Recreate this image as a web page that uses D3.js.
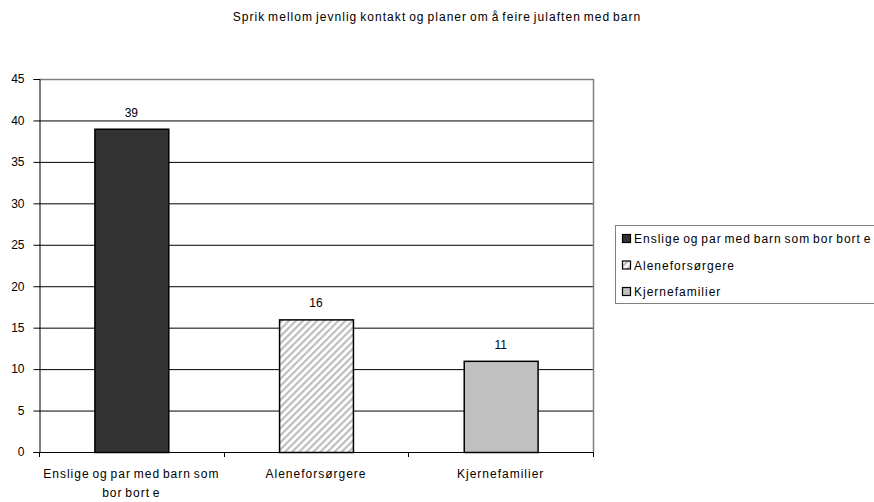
<!DOCTYPE html>
<html>
<head>
<meta charset="utf-8">
<script src="https://cdn.jsdelivr.net/npm/d3@7"></script>
<style>
body { margin: 0; background: #fff; }
svg { display: block; font-family: "Liberation Sans", Arial, sans-serif; }
</style>
</head>
<body>
<svg id="chart" width="874" height="502"></svg>
<script>
const title = "Sprik mellom jevnlig kontakt og planer om å feire julaften med barn";
const categories = ["Enslige og par med barn som bor bort e", "Aleneforsørgere", "Kjernefamilier"];
const categoryLines = [["Enslige og par med barn som", "bor bort e"], ["Aleneforsørgere"], ["Kjernefamilier"]];
const values = [39, 16, 11];
const legendLabels = ["Enslige og par med barn som bor bort e", "Aleneforsørgere", "Kjernefamilier"];
const yTicks = [0, 5, 10, 15, 20, 25, 30, 35, 40, 45];

const svg = d3.select("#chart");
const pLeft = 39, pRight = 593, pTop = 79, pBottom = 452;

const defs = svg.append("defs");
const pat = defs.append("pattern").attr("id", "hatch").attr("patternUnits", "userSpaceOnUse")
  .attr("width", 5).attr("height", 5).attr("patternTransform", "rotate(45)");
pat.append("rect").attr("width", 5).attr("height", 5).attr("fill", "#fff");
pat.append("rect").attr("x", 0).attr("width", 2.2).attr("height", 5).attr("fill", "#bdbdbd");

const fills = ["#333333", "url(#hatch)", "#c0c0c0"];

const x = d3.scaleBand().domain(categories).range([pLeft, pRight]).paddingInner(0.6).paddingOuter(0.3);
const xb = d3.scaleBand().domain(categories).range([pLeft, pRight]);
const y = d3.scaleLinear().domain([0, 45]).range([pBottom, pTop]);

// title
svg.append("text").attr("x", 437).attr("y", 21).attr("text-anchor", "middle")
  .attr("font-size", 12).attr("letter-spacing", 1.05).attr("word-spacing", -1.5).text(title);

// gridlines
svg.append("g").selectAll("line").data(yTicks.filter(d => d > 0 && d < 45)).join("line")
  .attr("x1", pLeft).attr("x2", pRight).attr("y1", d => y(d) + 0.5).attr("y2", d => y(d) + 0.5)
  .attr("stroke", "#000").attr("stroke-width", 1);

// plot border top/right
svg.append("path").attr("d", `M${pLeft},${pTop + 0.5}H${pRight + 0.5}V${pBottom}`)
  .attr("fill", "none").attr("stroke", "#808080").attr("stroke-width", 1.5);

// bars
svg.append("g").selectAll("rect").data(values).join("rect")
  .attr("x", (d, i) => x(categories[i]) + 0.5)
  .attr("y", d => y(d) + 0.5)
  .attr("width", x.bandwidth())
  .attr("height", d => pBottom - y(d))
  .attr("fill", (d, i) => fills[i])
  .attr("stroke", "#000").attr("stroke-width", 1.5);

// value labels
svg.append("g").selectAll("text").data(values).join("text")
  .attr("x", (d, i) => x(categories[i]) + x.bandwidth() / 2)
  .attr("y", d => y(d) - 12)
  .attr("text-anchor", "middle").attr("font-size", 12).text(d => d);

// y axis
const yAxis = svg.append("g").attr("transform", `translate(${pLeft + 0.5},0)`)
  .call(d3.axisLeft(y).tickValues(yTicks).tickSize(6).tickPadding(9));
yAxis.select(".domain").attr("stroke", "#000");
yAxis.selectAll("line").attr("stroke", "#000");
yAxis.selectAll("text").attr("font-size", 12).attr("font-family", "Liberation Sans, Arial, sans-serif").attr("fill", "#000");

// x axis
svg.append("line").attr("x1", pLeft).attr("x2", pRight).attr("y1", pBottom + 0.5).attr("y2", pBottom + 0.5)
  .attr("stroke", "#000");
const bounds = categories.map(c => xb(c)).concat([pRight]);
svg.append("g").selectAll("line").data(bounds).join("line")
  .attr("x1", d => Math.round(d) + 0.5).attr("x2", d => Math.round(d) + 0.5)
  .attr("y1", pBottom).attr("y2", pBottom + 5).attr("stroke", "#000");

// category labels
const cl = svg.append("g").selectAll("text").data(categories).join("text")
  .attr("x", c => xb(c) + xb.bandwidth() / 2)
  .attr("y", 478).attr("text-anchor", "middle").attr("font-size", 12)
  .attr("letter-spacing", 1).attr("word-spacing", -1.5);
cl.each(function(c, i) {
  const t = d3.select(this);
  categoryLines[i].forEach((line, j) => {
    t.append("tspan").attr("x", xb(c) + xb.bandwidth() / 2).attr("dy", j === 0 ? 0 : 19).text(line);
  });
});

// legend
svg.append("rect").attr("x", 615.5).attr("y", 225.5).attr("width", 270).attr("height", 78)
  .attr("fill", "#fff").attr("stroke", "#808080").attr("stroke-width", 1);
const lg = svg.append("g").selectAll("g").data(legendLabels).join("g")
  .attr("transform", (d, i) => `translate(622,${239 + i * 26.5})`);
lg.append("rect").attr("x", 0.5).attr("y", -4.5).attr("width", 8).attr("height", 8)
  .attr("fill", (d, i) => fills[i]).attr("stroke", "#000").attr("stroke-width", 1.2);
lg.append("text").attr("x", 12).attr("y", 4).attr("font-size", 12)
  .attr("letter-spacing", 1).attr("word-spacing", -1.5).text(d => d);
</script>
</body>
</html>
